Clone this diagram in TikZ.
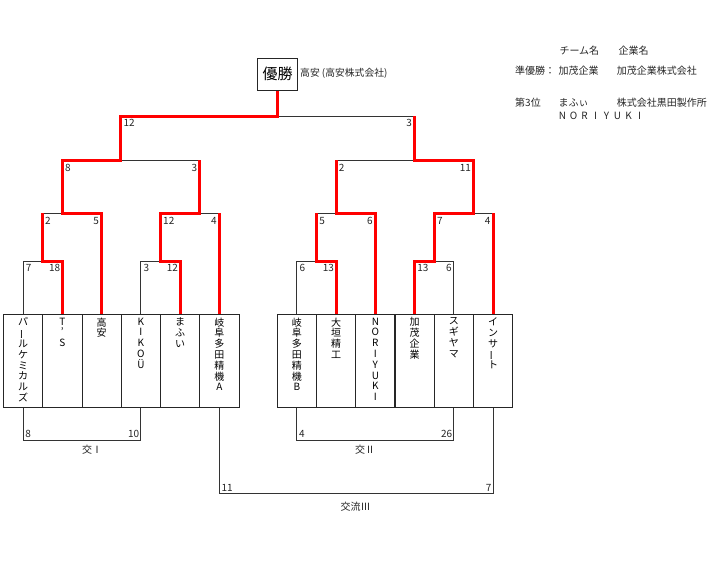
\documentclass[tikz,border=0pt]{standalone}
\usepackage{fontspec}
\setmainfont{Noto Sans CJK JP}
\usepackage{graphicx}
\newcommand{\vbar}{\rotatebox[origin=c]{90}{ー}}
\newcommand{\lsp}[1]{\makebox[11pt][c]{#1}}
\tikzset{
  blk/.style={draw=black!80, line width=1pt},
  win/.style={draw=red, line width=3pt},
  team/.style={draw=black!85, line width=1pt, minimum width=39.25pt, minimum height=93pt, inner sep=0pt},
  nm/.style={anchor=north, align=center, font=\fontsize{10}{10.8}\selectfont, inner sep=0pt},
  lnum/.style={anchor=base west, font=\fontsize{10}{11}\selectfont, inner sep=0pt, text=black!85},
  rnum/.style={anchor=base east, font=\fontsize{10}{11}\selectfont, inner sep=0pt, text=black!85},
  txt/.style={anchor=west, font=\fontsize{10}{11}\selectfont, inner sep=0pt, text=black!85},
  lab/.style={anchor=center, font=\fontsize{10}{11}\selectfont, inner sep=0pt, text=black!85}
}
\begin{document}
\begin{tikzpicture}[x=1pt,y=-1pt]
\useasboundingbox[fill=white] (0,0) rectangle (713,573);

% winner box
\node[draw=black!85, line width=1pt, minimum width=40pt, minimum height=31.7pt, inner sep=0pt, font=\fontsize{15}{15}\selectfont] (w) at (277.7,74.2) {優勝};
\node[anchor=west, inner sep=0pt, font=\fontsize{9.8}{10}\selectfont, text=black!85] (wl) at (300,73.5) {高安 (高安株式会社)};

% legend
\node[txt] (lg1) at (559.3,51) {チーム名};
\node[txt] (lg2) at (618.3,51) {企業名};
\node[txt] (lg3) at (515,70.5) {準優勝：};
\node[txt] (lg3b) at (558.3,70.5) {加茂企業};
\node[txt] (lg4) at (616.7,70.5) {加茂企業株式会社};
\node[txt] (lg5) at (515,103) {第3位};
\node[txt] (lg6) at (558.3,103) {まふぃ};
\node[txt] (lg7) at (616.7,103) {株式会社黒田製作所};
\node[txt] (lg8) at (556.8,115.5) {\lsp{N}\lsp{O}\lsp{R}\lsp{I}\lsp{Y}\lsp{U}\lsp{K}\lsp{I}};

% team boxes left
\node[team] (a1) at (23.125,360.5) {};
\node[team] (a2) at (62.375,360.5) {};
\node[team] (a3) at (101.625,360.5) {};
\node[team] (a4) at (140.875,360.5) {};
\node[team] (a5) at (180.125,360.5) {};
\node[team] (a6) at (219.375,360.5) {};
% team boxes right
\node[team] (b1) at (296.9,360.5) {};
\node[team] (b2) at (336.1,360.5) {};
\node[team] (b3) at (375.4,360.5) {};
\node[team] (b4) at (414.6,360.5) {};
\node[team] (b5) at (453.8,360.5) {};
\node[team] (b6) at (493.0,360.5) {};

% names
\node[nm] (a1n) at ([yshift=-4pt]a1.north) {パ\\\vbar\\ル\\ケ\\ミ\\カ\\ル\\ズ};
\node[nm] (a2n) at ([yshift=-4pt]a2.north) {T\\’\\S};
\node[nm] (a3n) at ([yshift=-4pt]a3.north) {高\\安};
\node[nm] (a4n) at ([yshift=-4pt]a4.north) {K\\I\\K\\O\\Ü};
\node[nm] (a5n) at ([yshift=-4pt]a5.north) {ま\\ふ\\い};
\node[nm] (a6n) at ([yshift=-4pt]a6.north) {岐\\阜\\多\\田\\精\\機\\A};
\node[nm] (b1n) at ([yshift=-4pt]b1.north) {岐\\阜\\多\\田\\精\\機\\B};
\node[nm] (b2n) at ([yshift=-4pt]b2.north) {大\\垣\\精\\工};
\node[nm] (b3n) at ([yshift=-4pt]b3.north) {N\\O\\R\\I\\Y\\U\\K\\I};
\node[nm] (b4n) at ([yshift=-4pt]b4.north) {加\\茂\\企\\業};
\node[nm] (b5n) at ([yshift=-4pt]b5.north) {ス\\ギ\\ヤ\\マ};
\node[nm] (b6n) at ([yshift=-4pt]b6.north) {イ\\ン\\サ\\\vbar\\ト};

% junctions
\coordinate (jL1) at (42.5,261);
\coordinate (jL2) at (62.375,213);
\coordinate (jL3) at (160.5,261);
\coordinate (jL4) at (199.75,213);
\coordinate (jL5) at (120.8,160);
\coordinate (jF)  at (277.7,116);
\coordinate (jR1) at (316.7,261);
\coordinate (jR2) at (336.1,213);
\coordinate (jR3) at (434.4,261);
\coordinate (jR4) at (473.7,213);
\coordinate (jR5) at (414.6,160);
\coordinate (yI) at (0,440);
\coordinate (yIII) at (0,493.3);

% black lines
\draw[blk] (a1.north) |- (jL1);
\draw[blk] (jL1 |- jL2) -- (jL2);
\draw[blk] (a4.north) |- (jL3);
\draw[blk] (jL4) -- (a6.north |- jL4);
\draw[blk] (jL5) -- (jL4 |- jL5);
\draw[blk] (jF) -- (jR5 |- jF);
\draw[blk] (b1.north) |- (jR1);
\draw[blk] (jR1 |- jR2) -- (jR2);
\draw[blk] (jR2 |- jR5) -- (jR5);
\draw[blk] (b5.north) |- (jR3);
\draw[blk] (jR4) -- (b6.north |- jR4);

% red lines
\draw[win] (a2.north) |- (jL1) -- (jL1 |- jL2);
\draw[win] (a3.north) |- (jL2) -- (jL2 |- jL5) -- (jL5) -- (jL5 |- jF) -- (jF) -- (w.south);
\draw[win] (a5.north) |- (jL3) -- (jL3 |- jL4) -- (jL4) -- (jL4 |- jL5);
\draw[win] (a6.north) -- (a6.north |- jL4);
\draw[win] (b2.north) |- (jR1) -- (jR1 |- jR2);
\draw[win] (b3.north) |- (jR2) -- (jR2 |- jR5);
\draw[win] (b4.north) |- (jR3) -- (jR3 |- jR4) -- (jR4) -- (jR4 |- jR5) -- (jR5) -- (jR5 |- jF);
\draw[win] (b6.north) -- (b6.north |- jR4);

% scores left group
\node[lnum] (s1) at ([xshift=2.5pt,yshift=-10.5pt]a1.north |- jL1) {7};
\node[rnum] (s2) at ([xshift=-2pt,yshift=-10.5pt]a2.north |- jL1) {18};
\node[lnum] (s3) at ([xshift=2.5pt,yshift=-10.5pt]a4.north |- jL3) {3};
\node[rnum] (s4) at ([xshift=-2pt,yshift=-10.5pt]a5.north |- jL3) {12};
\node[lnum] (s5) at ([xshift=2.5pt,yshift=-11pt]jL1 |- jL2) {2};
\node[rnum] (s6) at ([xshift=-2.5pt,yshift=-11pt]a3.north |- jL2) {5};
\node[lnum] (s7) at ([xshift=2.5pt,yshift=-11pt]jL3 |- jL4) {12};
\node[rnum] (s8) at ([xshift=-2.5pt,yshift=-11pt]a6.north |- jL4) {4};
\node[lnum] (s9) at ([xshift=2.5pt,yshift=-11.5pt]jL2 |- jL5) {8};
\node[rnum] (s10) at ([xshift=-2.5pt,yshift=-11.5pt]jL4 |- jL5) {3};
\node[lnum] (s11) at ([xshift=2.5pt,yshift=-10.7pt]jL5 |- jF) {12};
\node[rnum] (s12) at ([xshift=-2.5pt,yshift=-10.7pt]jR5 |- jF) {3};
% scores right group
\node[lnum] (s13) at ([xshift=2.5pt,yshift=-10.5pt]b1.north |- jR1) {6};
\node[rnum] (s14) at ([xshift=-2pt,yshift=-10.5pt]b2.north |- jR1) {13};
\node[lnum] (s15) at ([xshift=2.5pt,yshift=-10.5pt]b4.north |- jR3) {13};
\node[rnum] (s16) at ([xshift=-2pt,yshift=-10.5pt]b5.north |- jR3) {6};
\node[lnum] (s17) at ([xshift=2.5pt,yshift=-11pt]jR1 |- jR2) {5};
\node[rnum] (s18) at ([xshift=-2.5pt,yshift=-11pt]b3.north |- jR2) {6};
\node[lnum] (s19) at ([xshift=2.5pt,yshift=-11pt]jR3 |- jR4) {7};
\node[rnum] (s20) at ([xshift=-2.5pt,yshift=-11pt]b6.north |- jR4) {4};
\node[lnum] (s21) at ([xshift=2.5pt,yshift=-11.5pt]jR2 |- jR5) {2};
\node[rnum] (s22) at ([xshift=-2.5pt,yshift=-11.5pt]jR4 |- jR5) {11};

% consolation brackets
\draw[blk] (a1.south) -- (a1.south |- yI) -- (a4.south |- yI) -- (a4.south);
\draw[blk] (b1.south) -- (b1.south |- yI) -- (b5.south |- yI) -- (b5.south);
\draw[blk] (a6.south) -- (a6.south |- yIII) -- (b6.south |- yIII) -- (b6.south);
\node[lnum] (c1) at ([xshift=2pt,yshift=2.5pt]a1.south |- yI) {8};
\node[rnum] (c2) at ([xshift=-1.5pt,yshift=2.5pt]a4.south |- yI) {10};
\node[lnum] (c3) at ([xshift=2pt,yshift=2.5pt]b1.south |- yI) {4};
\node[rnum] (c4) at ([xshift=-1.5pt,yshift=2.5pt]b5.south |- yI) {26};
\node[lnum] (c5) at ([xshift=2pt,yshift=2pt]a6.south |- yIII) {11};
\node[rnum] (c6) at ([xshift=-1.5pt,yshift=2pt]b6.south |- yIII) {7};
\node[lab] (l1) at (92,450) {交Ⅰ};
\node[lab] (l2) at (365,450) {交Ⅱ};
\node[lab] (l3) at (355.5,507) {交流Ⅲ};
\end{tikzpicture}
\end{document}
